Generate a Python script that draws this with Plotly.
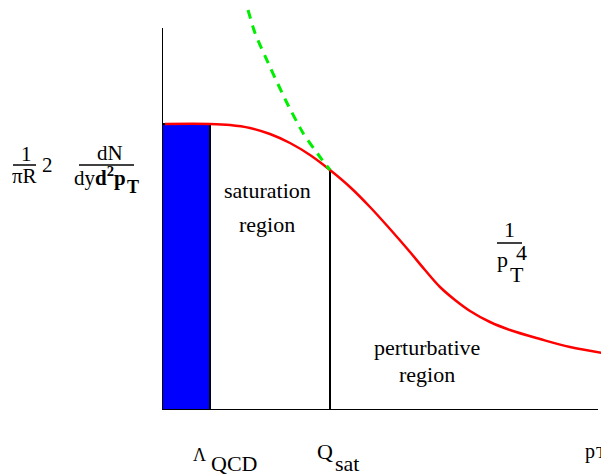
import plotly.graph_objects as go

FONT = "Liberation Serif"
OFF = 8                      # page body margin of the exported html
W, H = 609 - OFF, 475 - OFF  # figure size
ML, MB = 162 - OFF, 65       # plot area: page x 162..609, page y 8..410
PW, PH = W - ML, H - MB      # 447 x 402

# ---- data (plot units: p_T axis 0..447, yield axis 0..402) ----
lam_qcd = 48          # Lambda_QCD position on p_T axis
q_sat = 168           # Q_sat position on p_T axis
pt_axis_end = 436
y_axis_end = 382
plateau = 286         # height of the saturated plateau

curve_pt = [3, 48, 68, 88, 108, 128, 148, 168, 188, 208, 228, 248, 263, 278,
            293, 308, 328, 348, 378, 408, 447]
curve_y = [286, 286, 285, 282, 276, 267, 255, 240, 223, 203, 181, 158, 140, 123,
           110, 99, 88, 80, 71, 63, 56]

power_pt = [86, 93, 108, 125, 141, 158, 168]
power_y = [400, 377, 343, 307, 277, 253, 240]


def P(px, py):
    """reference-pixel position -> paper coordinates"""
    return (px - 162) / PW, (410 - py) / PH


fig = go.Figure()

# blue Lambda_QCD band
fig.add_trace(go.Scatter(
    x=[0, 0, lam_qcd, lam_qcd, 0], y=[0, plateau, plateau, 0, 0],
    mode="lines", fill="toself", fillcolor="#0000ff",
    line=dict(color="black", width=2), hoverinfo="skip"))

# axes
fig.add_trace(go.Scatter(x=[0, 0], y=[0, y_axis_end], mode="lines",
                         line=dict(color="black", width=2), hoverinfo="skip"))
fig.add_trace(go.Scatter(x=[0, pt_axis_end], y=[0, 0], mode="lines",
                         line=dict(color="black", width=2), hoverinfo="skip"))

# Q_sat divider
fig.add_trace(go.Scatter(x=[q_sat, q_sat], y=[0, curve_y[curve_pt.index(q_sat)]],
                         mode="lines", line=dict(color="black", width=2),
                         hoverinfo="skip"))

# spectrum
fig.add_trace(go.Scatter(x=curve_pt, y=curve_y, mode="lines",
                         line=dict(color="#ff0000", width=2.5, shape="spline",
                                   smoothing=1),
                         hoverinfo="skip"))

# 1/pT^4 power law
fig.add_trace(go.Scatter(x=power_pt, y=power_y, mode="lines",
                         line=dict(color="#00ee00", width=3, dash="9px,7px",
                                   shape="spline", smoothing=0.6),
                         hoverinfo="skip"))

ann = []


def txt(t, px, py, size=22, xanchor="center", yanchor="middle"):
    x, y = P(px, py)
    ann.append(dict(text=t, x=x, y=y, xref="paper", yref="paper",
                    xanchor=xanchor, yanchor=yanchor, showarrow=False,
                    font=dict(family=FONT, size=size, color="black")))


# region labels
txt("saturation", 267, 190)
txt("region", 267, 224)
txt("perturbative", 427, 347)
txt("region", 427, 374)

# 1 / pT^4
txt("1", 509, 229)
txt("p", 502, 259)
txt("4", 521, 253)
txt("T", 517, 274)

# y label
txt("1", 26, 154, size=21)
txt("πR", 24, 176, size=21)
txt("2", 48, 165, size=21)
txt("dN", 110, 153, size=21)
txt("dy<b>d<sup>2</sup>p</b>", 100, 176, size=21)
txt("<b>T</b>", 133, 187, size=18)

# x labels
txt("Λ", 199, 455, size=18)
txt("QCD", 234, 463)
txt("Q", 325, 451)
txt("sat", 347, 463)
txt("p", 590, 451, size=20)
txt("T", 601, 452, size=17)

shapes = []
for (x0, x1, yy) in [(497, 522, 243), (13, 36, 165), (79, 134, 165)]:
    a0, b0 = P(x0, yy)
    a1, _ = P(x1, yy)
    shapes.append(dict(type="line", xref="paper", yref="paper",
                       x0=a0, x1=a1, y0=b0, y1=b0,
                       line=dict(color="black", width=1.5)))

fig.update_layout(
    width=W, height=H, showlegend=False,
    margin=dict(l=ML, r=0, t=0, b=MB, pad=0),
    paper_bgcolor="white", plot_bgcolor="white",
    xaxis=dict(range=[0, PW], visible=False, fixedrange=True),
    yaxis=dict(range=[0, PH], visible=False, fixedrange=True),
    annotations=ann, shapes=shapes,
)

fig.write_html("out.html")
